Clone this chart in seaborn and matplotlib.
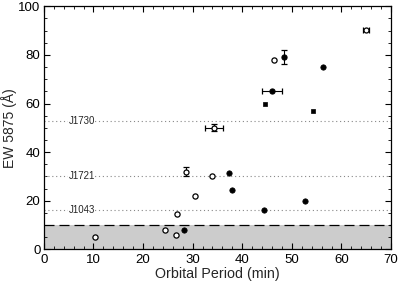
import numpy as np
import matplotlib
matplotlib.use("Agg")
import matplotlib.pyplot as plt
import seaborn as sns
from matplotlib.ticker import MultipleLocator

# open symbols (no error bars)
open_x = [10.3, 24.5, 26.6, 26.8, 30.4, 33.8, 46.5]
open_y = [5.0, 8.0, 6.0, 14.7, 21.8, 30.2, 77.7]

# filled symbols (no error bars)
fill_x = [28.3, 37.4, 38.0, 44.4, 52.6, 56.3]
fill_y = [8.0, 31.3, 24.3, 16.0, 19.7, 75.1]

# filled squares
sq_x = [44.5, 54.3]
sq_y = [60.0, 57.0]

# points with error bars: x, y, xerr, yerr, filled
err_x = [28.6, 34.3, 46.0, 48.4, 64.9]
err_y = [32.0, 50.0, 65.2, 79.1, 90.3]
err_xe = [0.0, 1.8, 2.0, 0.0, 0.6]
err_ye = [1.8, 1.5, 0.0, 3.0, 0.0]
err_filled = [False, False, True, True, False]

# reference systems
ref_names = ["J1730", "J1721", "J1043"]
ref_ew = [53, 30, 16]

sns.set_theme(style="ticks")
plt.rcParams['font.family'] = ['Liberation Sans', 'DejaVu Sans']

fig, ax = plt.subplots(figsize=(3.99, 2.85), dpi=100)

ax.axhspan(0, 10, color="#cccccc", zorder=0, lw=0)
ax.axhline(10, color="black", ls=(0, (8, 4)), lw=0.9, zorder=1)

for name, ew in zip(ref_names, ref_ew):
    ax.axhline(ew, color="#888888", ls=(0, (1, 2.5)), lw=0.8, zorder=1)
    ax.text(7.6, ew, name, fontsize=7, va="center", ha="center",
            bbox=dict(facecolor="white", edgecolor="none", pad=0.3), zorder=2)

sns.scatterplot(x=open_x, y=open_y, ax=ax, marker="o", s=14,
                facecolor="white", edgecolor="black", linewidth=0.9, zorder=4)
sns.scatterplot(x=fill_x, y=fill_y, ax=ax, marker="o", s=15,
                color="black", edgecolor="black", linewidth=0.5, zorder=4)
sns.scatterplot(x=sq_x, y=sq_y, ax=ax, marker="s", s=12.5,
                color="black", edgecolor="black", linewidth=0.5, zorder=4)

for x, y, xe, ye, f in zip(err_x, err_y, err_xe, err_ye, err_filled):
    ax.errorbar(x, y, xerr=xe if xe else None, yerr=ye if ye else None,
                fmt="o", ms=3.6, mfc="black" if f else "white", mec="black",
                mew=0.9, ecolor="black", elinewidth=0.8, capsize=2, capthick=0.8,
                zorder=5)

ax.set_xlim(0, 70)
ax.set_ylim(0, 100)
ax.xaxis.set_major_locator(MultipleLocator(10))
ax.xaxis.set_minor_locator(MultipleLocator(2))
ax.yaxis.set_major_locator(MultipleLocator(20))
ax.yaxis.set_minor_locator(MultipleLocator(5))
ax.tick_params(which="both", direction="in", top=True, right=True,
               labelsize=9.5, colors="black", pad=3)
ax.tick_params(axis="y", pad=2.5)
ax.tick_params(which="major", length=4, width=0.8)
ax.tick_params(which="minor", length=2, width=0.6)
for sp in ax.spines.values():
    sp.set_color("black")
    sp.set_linewidth(0.9)

ax.set_xlabel("Orbital Period (min)", fontsize=10.3, labelpad=1)
ax.set_ylabel("EW 5875 (Å)", fontsize=10, labelpad=0.5)

fig.subplots_adjust(left=0.11, right=0.98, top=0.978, bottom=0.125)
fig.savefig("out.png", dpi=100)
